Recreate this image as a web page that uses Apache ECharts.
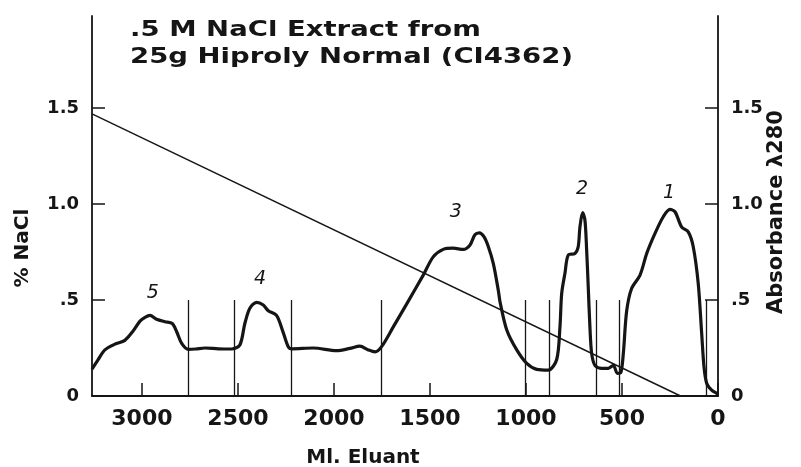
<!DOCTYPE html>
<html>
<head>
<meta charset="utf-8">
<script src="https://cdn.jsdelivr.net/npm/echarts@6/dist/echarts.min.js"></script>
<style>
  html, body { margin: 0; padding: 0; background: #fff; }
  #chart { width: 801px; height: 467px; }
</style>
</head>
<body>
<div id="chart"></div>
<script>
// absorbance trace, ml eluant vs A280
var absX = [3260, 3228, 3193, 3141, 3089, 3045, 3010, 2984, 2958, 2924, 2880, 2842, 2819, 2793, 2758, 2720,
    2672, 2602, 2533, 2490, 2464, 2438, 2403, 2368, 2342, 2299, 2264, 2238, 2220, 2108, 1986, 1917,
    1865, 1821, 1786, 1752, 1691, 1621, 1535, 1483, 1431, 1379, 1327, 1292, 1266, 1243, 1219, 1196,
    1170, 1144, 1135, 1100, 1048, 996, 944, 884, 840, 823, 814, 797, 780, 745, 728, 719,
    705, 693, 684, 675, 667, 658, 641, 606, 571, 545, 524, 507, 493, 476, 450, 406,
    371, 328, 285, 250, 224, 189, 155, 129, 103, 85, 73, 59, 33, 7, 0];
var absY = [0.14, 0.19, 0.24, 0.27, 0.29, 0.34, 0.39, 0.41, 0.42, 0.40, 0.387, 0.378, 0.335, 0.274, 0.243, 0.245,
    0.25, 0.246, 0.245, 0.266, 0.378, 0.457, 0.488, 0.474, 0.444, 0.42, 0.33, 0.257, 0.246, 0.25, 0.236, 0.248,
    0.26, 0.24, 0.23, 0.257, 0.36, 0.48, 0.63, 0.725, 0.764, 0.77, 0.764, 0.786, 0.84, 0.85, 0.83, 0.778,
    0.69, 0.55, 0.49, 0.344, 0.24, 0.17, 0.139, 0.135, 0.19, 0.36, 0.535, 0.64, 0.734, 0.743, 0.778, 0.88,
    0.955, 0.917, 0.76, 0.55, 0.36, 0.222, 0.16, 0.144, 0.144, 0.16, 0.118, 0.12, 0.222, 0.44, 0.56, 0.63,
    0.743, 0.847, 0.934, 0.972, 0.96, 0.88, 0.855, 0.778, 0.587, 0.326, 0.153, 0.066, 0.03, 0.014, 0.01];

// salt gradient (% NaCl)
var saltX = [3260, 195];
var saltY = [1.47, 0];

// fraction cut lines (ml) and their height
var cutX = [2760, 2518, 2221, 1755, 1005, 880, 635, 516, 62];
var cutTop = 0.5;

// peak numbers
var peakNames = ['5', '4', '3', '2', '1'];
var peakX = [2943, 2385, 1365, 708, 255];
var peakY = [0.536, 0.61, 0.96, 1.08, 1.06];

var xTicks = [0, 500, 1000, 1500, 2000, 2500, 3000];
var yTicks = [0, 0.5, 1.0, 1.5];

var ink = '#151515';
var font = 'DejaVu Sans';

function yFmt(v) {
    if (v === 0) return '0';
    if (v === 0.5) return '.5';
    return v.toFixed(1);
}

var chart = echarts.init(document.getElementById('chart'));

var absData = absX.map(function (x, i) { return [x, absY[i]]; });
var saltData = saltX.map(function (x, i) { return [x, saltY[i]]; });
var cutLines = cutX.map(function (x) { return [{coord: [x, 0]}, {coord: [x, cutTop]}]; });
var peakPoints = peakNames.map(function (n, i) {
    return {name: n, coord: [peakX[i], peakY[i]], value: n};
});

var yAxisBase = function (pos) {
    return {
        type: 'value',
        position: pos,
        min: 0,
        max: 1.98,
        splitLine: {show: false},
        axisLine: {show: true, onZero: false, lineStyle: {color: ink, width: 1.8}},
        axisTick: {show: true, inside: true, length: 13, customValues: yTicks, lineStyle: {color: ink, width: 1.5}},
        axisLabel: {customValues: yTicks, formatter: yFmt, margin: 13, color: ink,
            fontSize: 18, fontWeight: 'bold', fontFamily: font}
    };
};

var option = {
    backgroundColor: '#fff',
    animation: false,
    grid: {left: 92, right: 83, top: 16, bottom: 71},
    xAxis: {
        type: 'value',
        min: 0,
        max: 3260,
        inverse: true,
        splitLine: {show: false},
        axisLine: {onZero: false, lineStyle: {color: ink, width: 1.8}},
        axisTick: {inside: true, length: 13, customValues: xTicks, lineStyle: {color: ink, width: 1.5}},
        axisLabel: {customValues: xTicks, formatter: function (v) { return String(v); }, margin: 12,
            color: ink, fontSize: 22, fontWeight: 'bold', fontFamily: font}
    },
    yAxis: [yAxisBase('left'), yAxisBase('right')],
    graphic: [
        {type: 'text', x: 130, y: 20, scaleX: 1.31,
            style: {text: '.5 M NaCl Extract from', fontSize: 21, fontWeight: 'bold', fontFamily: font, fill: ink, verticalAlign: 'top'}},
        {type: 'text', x: 130, y: 47, scaleX: 1.31,
            style: {text: '25g Hiproly Normal (CI4362)', fontSize: 21, fontWeight: 'bold', fontFamily: font, fill: ink, verticalAlign: 'top'}},
        {type: 'text', x: 23, y: 248, rotation: Math.PI / 2,
            style: {text: '% NaCl', fontSize: 20, fontWeight: 'bold', fontFamily: font, fill: ink, align: 'center', verticalAlign: 'middle'}},
        {type: 'text', x: 777, y: 212, rotation: Math.PI / 2,
            style: {text: 'Absorbance \u03bb280', fontSize: 21, fontWeight: 'bold', fontFamily: font, fill: ink, align: 'center', verticalAlign: 'middle'}},
        {type: 'text', x: 363, y: 458,
            style: {text: 'Ml. Eluant', fontSize: 20, fontWeight: 'bold', fontFamily: font, fill: ink, align: 'center', verticalAlign: 'middle'}}
    ],
    series: [
        {
            name: '% NaCl',
            type: 'line',
            yAxisIndex: 0,
            data: saltData,
            symbol: 'none',
            lineStyle: {color: ink, width: 1.4},
            markLine: {
                silent: true,
                symbol: 'none',
                label: {show: false},
                lineStyle: {color: ink, width: 1.3, type: 'solid'},
                data: cutLines
            }
        },
        {
            name: 'A280',
            type: 'line',
            yAxisIndex: 1,
            data: absData,
            symbol: 'none',
            smooth: 0.3,
            lineStyle: {color: ink, width: 3.2},
            markPoint: {
                silent: true,
                symbol: 'circle',
                symbolSize: 1,
                itemStyle: {color: 'rgba(0,0,0,0)'},
                label: {show: true, position: 'inside', formatter: '{b}', color: ink,
                    fontSize: 19, fontStyle: 'italic', fontFamily: font},
                data: peakPoints
            }
        }
    ]
};

chart.setOption(option);
</script>
</body>
</html>
